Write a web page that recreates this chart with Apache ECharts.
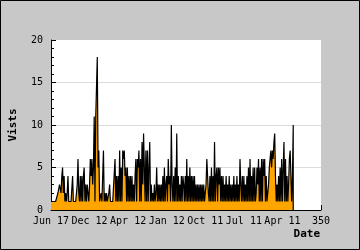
<!DOCTYPE html>
<html>
<head>
<meta charset="utf-8">
<script src="https://cdn.jsdelivr.net/npm/echarts@6/dist/echarts.min.js"></script>
<style>
  html, body { margin: 0; padding: 0; background: #c8c8c8; }
  #chart { width: 360px; height: 250px; }
</style>
</head>
<body>
<div id="chart"></div>
<script>
// visits per day (one value per x unit)
const visits = [
  1, 1, 1, 1, 1, 1, 1, 1, 1, 2, 2, 3, 3, 2, 4, 5, 2, 4, 1, 2,
  1, 2, 4, 1, 1, 1, 1, 1, 4, 1, 1, 1, 1, 1, 3, 6, 2, 1, 4, 1,
  4, 1, 4, 5, 1, 3, 1, 3, 2, 1, 3, 6, 4, 6, 3, 5, 11, 1, 11, 11,
  18, 5, 7, 1, 1, 2, 1, 1, 7, 1, 2, 1, 2, 1, 1, 2, 3, 1, 1, 1,
  1, 1, 1, 6, 1, 4, 1, 4, 1, 7, 1, 5, 1, 7, 6, 7, 4, 5, 1, 5,
  1, 4, 1, 4, 1, 4, 1, 3, 1, 4, 6, 1, 6, 5, 7, 1, 6, 1, 8, 3,
  9, 5, 1, 7, 1, 7, 1, 5, 8, 1, 3, 1, 2, 1, 3, 1, 2, 5, 1, 3,
  1, 3, 1, 3, 1, 4, 1, 5, 1, 3, 4, 1, 6, 3, 4, 1, 10, 3, 1, 4,
  1, 5, 1, 9, 1, 4, 1, 3, 1, 4, 1, 4, 3, 1, 4, 1, 6, 1, 4, 1,
  5, 1, 4, 1, 4, 1, 4, 1, 3, 1, 3, 1, 3, 1, 3, 1, 3, 1, 3, 1,
  1, 3, 6, 6, 2, 1, 4, 1, 5, 1, 4, 1, 8, 1, 4, 5, 1, 5, 3, 5,
  1, 4, 1, 4, 1, 3, 1, 4, 1, 3, 1, 4, 1, 3, 1, 3, 1, 4, 1, 3,
  1, 4, 1, 3, 1, 6, 3, 1, 4, 1, 4, 1, 3, 1, 4, 1, 5, 1, 6, 1,
  4, 1, 5, 1, 5, 1, 2, 5, 3, 6, 1, 5, 1, 6, 1, 6, 4, 6, 1, 4,
  1, 1, 3, 5, 6, 7, 5, 7, 6, 8, 9, 4, 1, 3, 1, 4, 1, 5, 1, 6,
  1, 5, 8, 1, 6, 1, 4, 1, 3, 6, 7, 4, 1, 4, 10
]

// x axis labels, one per 50 units
const xTickLabels = ['Jun 17', 'Dec 12', 'Apr 12', 'Jan 12', 'Oct 11', 'Jul 11', 'Apr 11', '350']

const FONT = 'DejaVu Sans Mono'

const chart = echarts.init(document.getElementById('chart'), null, { renderer: 'canvas' })

// line points, plus a drop to zero at the last day
const points = visits.map((v, i) => [i, v])
points.push([visits.length - 1, 0])

chart.setOption({
  animation: false,
  backgroundColor: '#c8c8c8',
  graphic: [{
    type: 'rect',
    shape: { x: 0.5, y: 0.5, width: 359, height: 249 },
    style: { fill: 'none', stroke: '#000', lineWidth: 1 }
  }],
  grid: {
    left: 40, top: 40, width: 281, height: 170,
    show: true, backgroundColor: '#fff', borderWidth: 0
  },
  xAxis: {
    type: 'value',
    min: 0, max: 350, interval: 50,
    name: 'Date',
    nameLocation: 'end',
    nameGap: -1,
    nameTextStyle: {
      fontFamily: FONT, fontSize: 11, fontWeight: 'bold', color: '#000',
      align: 'right', verticalAlign: 'top', padding: [19, 0, 0, 0]
    },
    axisLine: { lineStyle: { color: '#000', width: 1 } },
    axisTick: { inside: true, length: 5, lineStyle: { color: '#000' } },
    axisLabel: {
      margin: 6, color: '#000', fontFamily: FONT, fontSize: 10,
      formatter: v => xTickLabels[Math.round(v / 50)] || ''
    },
    splitLine: { show: false }
  },
  yAxis: {
    type: 'value',
    min: 0, max: 20, interval: 5,
    name: 'Vists',
    nameLocation: 'middle',
    nameRotate: 90,
    nameGap: 32,
    nameTextStyle: { fontFamily: FONT, fontSize: 11, fontWeight: 'bold', color: '#000' },
    axisLine: { show: true, lineStyle: { color: '#000', width: 1 } },
    axisTick: { show: true, inside: true, length: 5, lineStyle: { color: '#000' } },
    minorTick: { show: true, splitNumber: 5, length: 3, lineStyle: { color: '#000' } },
    axisLabel: { margin: 8, color: '#000', fontFamily: FONT, fontSize: 10 },
    splitLine: { show: true, showMinLine: false, showMaxLine: false, lineStyle: { color: '#dcdcdc', width: 1 } }
  },
  series: [{
    type: 'line',
    data: points,
    symbol: 'none',
    lineStyle: { color: '#000', width: 1.2 },
    areaStyle: { color: '#ffa500', opacity: 1 }
  }]
})
</script>
</body>
</html>
